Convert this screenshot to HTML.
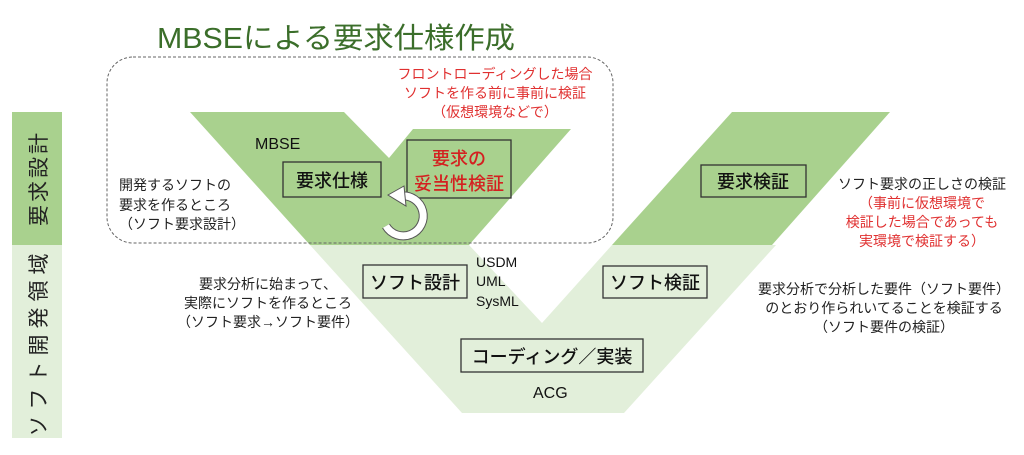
<!DOCTYPE html>
<html><head><meta charset="utf-8"><style>
html,body{margin:0;padding:0;background:#fff;}
svg{display:block;font-family:"Liberation Sans","Noto Sans CJK JP",sans-serif;}
</style></head><body>
<svg width="1024" height="455" viewBox="0 0 1024 455" xmlns="http://www.w3.org/2000/svg">
<rect width="1024" height="455" fill="#fff"/>
<rect x="12" y="112" width="50" height="133" fill="#a9d18e"/>
<rect x="12" y="245" width="50" height="193" fill="#e2efda"/>
<text transform="translate(46,178) rotate(-90)" text-anchor="middle" font-size="21" fill="#222" letter-spacing="3">要求設計</text>
<text transform="translate(46,342) rotate(-90)" text-anchor="middle" font-size="21" fill="#222" letter-spacing="6">ソフト開発領域</text>
<polygon points="310,245 469,245 542,323 612,245 776,245 624,413 462,413" fill="#e2efda"/>
<polygon points="190,112 344,112 389,158 413,129 571,129 469,245 310,245" fill="#a9d18e"/>
<polygon points="732,112 890,112 772,245 612,245" fill="#a9d18e"/>
<rect x="107" y="57" width="506" height="186" rx="26" fill="none" stroke="#666" stroke-width="1" stroke-dasharray="3,2"/>
<text x="157" y="48" font-size="29" fill="#3b6e2a" textLength="358" lengthAdjust="spacingAndGlyphs">MBSEによる要求仕様作成</text>
<g font-size="14" fill="#e03030" text-anchor="middle">
<text x="495" y="79">フロントローディングした場合</text>
<text x="495" y="98">ソフトを作る前に事前に検証</text>
<text x="495" y="117">（仮想環境などで）</text>
</g>
<text x="255" y="149" font-size="16" fill="#111">MBSE</text>
<g fill="none" stroke="#333" stroke-width="1.3">
<rect x="283" y="162" width="98" height="35"/>
<rect x="407" y="140" width="104" height="58"/>
<rect x="701" y="165" width="105" height="32"/>
<rect x="363" y="265" width="104" height="33"/>
<rect x="603" y="266" width="104" height="32"/>
<rect x="461" y="339" width="182" height="33"/>
</g>
<g font-size="18" fill="#111" text-anchor="middle" font-weight="500">
<text x="332" y="187">要求仕様</text>
<text x="459" y="165" fill="#d42020">要求の</text>
<text x="459" y="190" fill="#d42020">妥当性検証</text>
<text x="753" y="188">要求検証</text>
<text x="415" y="289">ソフト設計</text>
<text x="655" y="289">ソフト検証</text>
<text x="552" y="363">コーディング／実装</text>
</g>
<g>
<path d="M401,196 A20,20 0 1 1 386,226" fill="none" stroke="#555" stroke-width="9"/>
<path d="M401,196 A20,20 0 1 1 386,226" fill="none" stroke="#fff" stroke-width="7"/>
<polygon points="388,195 404,186 406,206" fill="#fff" stroke="#555" stroke-width="1"/>
</g>
<g font-size="14" fill="#111">
<text x="476" y="267">USDM</text>
<text x="476" y="286">UML</text>
<text x="476" y="306">SysML</text>
<text x="533" y="398" font-size="16">ACG</text>
</g>
<g font-size="14" fill="#222">
<text x="119" y="190">開発するソフトの</text>
<text x="119" y="210">要求を作るところ</text>
<text x="119" y="229">（ソフト要求設計）</text>
</g>
<g font-size="14" fill="#222" text-anchor="middle">
<text x="268" y="289">要求分析に始まって、</text>
<text x="268" y="308">実際にソフトを作るところ</text>
<text x="268" y="327">（ソフト要求→ソフト要件）</text>
<text x="922" y="189">ソフト要求の正しさの検証</text>
<text x="922" y="208" fill="#e03030">（事前に仮想環境で</text>
<text x="922" y="227" fill="#e03030">検証した場合であっても</text>
<text x="922" y="246" fill="#e03030">実環境で検証する）</text>
<text x="884" y="294">要求分析で分析した要件（ソフト要件）</text>
<text x="884" y="313">のとおり作られいてることを検証する</text>
<text x="884" y="332">（ソフト要件の検証）</text>
</g>
</svg>
</body></html>
